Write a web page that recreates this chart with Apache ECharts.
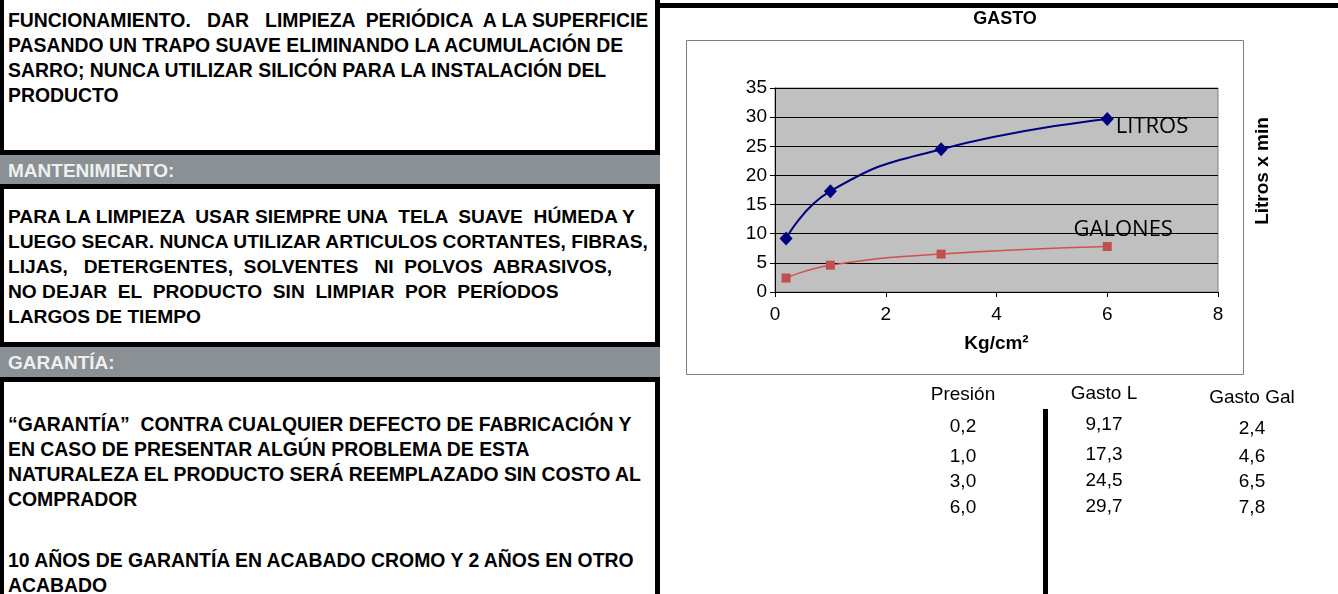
<!DOCTYPE html>
<html>
<head>
<meta charset="utf-8">
<script src="https://cdn.jsdelivr.net/npm/echarts@6/dist/echarts.min.js"></script>
<style>
  html, body { margin: 0; padding: 0; background: #fff; }
  body { width: 1338px; height: 594px; position: relative; overflow: hidden; font-family: "Liberation Sans", Arial, sans-serif; }
  .blk { position: absolute; background: #000; }
  .band { position: absolute; left: 0; width: 660px; background: #8a9093; border-top: 5px solid #000; border-bottom: 5px solid #000; }
  .band span { position: absolute; left: 8px; top: 1px; line-height: 30px; font-size: 19px; font-weight: bold; color: #eef0f0; }
  .ln { position: absolute; left: 8px; height: 25px; line-height: 25px; font-size: 19.4px; font-weight: bold; color: #000; white-space: pre; }
  .cell { position: absolute; width: 120px; margin-left: -60px; text-align: center; font-size: 19px; line-height: 24px; height: 24px; color: #000; }
  #chart { position: absolute; left: 660px; top: 0; width: 678px; height: 400px; }
</style>
</head>
<body>
<div id="doc"></div>
<div id="chart"></div>
<div id="tbl"></div>
<script>
// --- chart data (presion en kg/cm2, gasto) ---
var presion  = [0.2, 1.0, 3.0, 6.0];
var gastoL   = [9.17, 17.3, 24.5, 29.7];
var gastoGal = [2.4, 4.6, 6.5, 7.8];
var tableHeads = ['Presión', 'Gasto L', 'Gasto Gal'];

// --- left panel text ---
var bloque1 = [
  'FUNCIONAMIENTO.   DAR   LIMPIEZA  PERIÓDICA  A LA SUPERFICIE',
  'PASANDO UN TRAPO SUAVE ELIMINANDO LA ACUMULACIÓN DE',
  'SARRO; NUNCA UTILIZAR SILICÓN PARA LA INSTALACIÓN DEL',
  'PRODUCTO'
];
var bloque2 = [
  'PARA LA LIMPIEZA  USAR SIEMPRE UNA  TELA  SUAVE  HÚMEDA Y',
  'LUEGO SECAR. NUNCA UTILIZAR ARTICULOS CORTANTES, FIBRAS,',
  'LIJAS,   DETERGENTES,  SOLVENTES   NI  POLVOS  ABRASIVOS,',
  'NO DEJAR  EL  PRODUCTO  SIN  LIMPIAR  POR  PERÍODOS',
  'LARGOS DE TIEMPO'
];
var bloque3 = [
  '“GARANTÍA”  CONTRA CUALQUIER DEFECTO DE FABRICACIÓN Y',
  'EN CASO DE PRESENTAR ALGÚN PROBLEMA DE ESTA',
  'NATURALEZA EL PRODUCTO SERÁ REEMPLAZADO SIN COSTO AL',
  'COMPRADOR'
];
var bloque4 = [
  '10 AÑOS DE GARANTÍA EN ACABADO CROMO Y 2 AÑOS EN OTRO',
  'ACABADO'
];

function esc(t) {
  return t.replace(/&/g, '&amp;').replace(/</g, '&lt;').replace(/>/g, '&gt;');
}

function addLines(lines, firstCenter, step, size) {
  var html = '';
  lines.forEach(function (t, i) {
    var top = Math.round(firstCenter + i * step - 12.5);
    html += '<div class="ln" style="top:' + top + 'px' + (size ? ';font-size:' + size + 'px' : '') + '">' + esc(t) + '</div>';
  });
  return html;
}

var doc = '';
doc += '<div class="blk" style="left:0;top:0;width:4px;height:594px"></div>';
doc += '<div class="blk" style="left:655px;top:0;width:5px;height:594px"></div>';
doc += '<div class="blk" style="left:655px;top:3px;width:683px;height:5px"></div>';
doc += addLines(bloque1, 20, 25);
doc += '<div class="band" style="top:150px;height:29px"><span>MANTENIMIENTO:</span></div>';
doc += addLines(bloque2, 216, 25.2, 19.2);
doc += '<div class="band" style="top:342px;height:30px"><span>GARANTÍA:</span></div>';
doc += addLines(bloque3, 424, 25.3);
doc += addLines(bloque4, 560, 25);
document.getElementById('doc').innerHTML = doc;

// --- data table under the chart ---
function fmt(v, dec) {
  return (dec != null ? v.toFixed(dec) : String(v)).replace('.', ',');
}
var colX = [963, 1104, 1252];
var headY = [394, 393, 397];
var rowY = [[426, 456, 481, 507], [424, 454, 480, 506], [428, 456, 481, 507]];
var cols = [
  presion.map(function (v) { return fmt(v, 1); }),
  gastoL.map(function (v) { return fmt(v); }),
  gastoGal.map(function (v) { return fmt(v); })
];
var tb = '';
tableHeads.forEach(function (h, c) {
  tb += '<div class="cell" style="left:' + colX[c] + 'px;top:' + (headY[c] - 12) + 'px">' + h + '</div>';
  cols[c].forEach(function (s, r) {
    tb += '<div class="cell" style="left:' + colX[c] + 'px;top:' + (rowY[c][r] - 12) + 'px">' + s + '</div>';
  });
});
tb += '<div class="blk" style="left:1043px;top:409px;width:5px;height:185px"></div>';
document.getElementById('tbl').innerHTML = tb;

// --- chart ---
var chart = echarts.init(document.getElementById('chart'));
var last = presion.length - 1;

chart.setOption({
  animation: false,
  graphic: [
    { type: 'text', x: 345, y: 19,
      style: { text: 'GASTO', fill: '#000', font: 'bold 18px "Liberation Sans"', textAlign: 'center', textVerticalAlign: 'middle' } },
    { type: 'rect', shape: { x: 26.5, y: 40.5, width: 557, height: 334 }, style: { fill: 'none', stroke: '#7f7f7f', lineWidth: 1 }, z: -1 },
    { type: 'text', x: 603, y: 171, rotation: Math.PI / 2,
      style: { text: 'Litros x min', fill: '#000', font: 'bold 19px "Liberation Sans"', textAlign: 'center', textVerticalAlign: 'middle' } }
  ],
  grid: {
    left: 115, top: 88, width: 443, height: 204,
    show: true, backgroundColor: '#c0c0c0', borderColor: '#808080', borderWidth: 1
  },
  xAxis: {
    type: 'value', min: 0, max: 8, interval: 2,
    name: 'Kg/cm²', nameLocation: 'middle', nameGap: 42,
    nameTextStyle: { fontFamily: 'Liberation Sans', fontSize: 19, fontWeight: 'bold', color: '#000' },
    axisLine: { onZero: false, lineStyle: { color: '#000', width: 1 } },
    axisTick: { show: true, length: 5, lineStyle: { color: '#000' } },
    axisLabel: { margin: 13, fontFamily: 'Liberation Sans', fontSize: 19, color: '#000' },
    splitLine: { show: false }
  },
  yAxis: {
    type: 'value', min: 0, max: 35, interval: 5,
    axisLine: { show: true, lineStyle: { color: '#000', width: 1 } },
    axisTick: { show: true, length: 5, lineStyle: { color: '#000' } },
    axisLabel: { margin: 8, fontFamily: 'Liberation Sans', fontSize: 19, color: '#000' },
    splitLine: { show: true, lineStyle: { color: '#000', width: 1 } }
  },
  series: [
    {
      name: 'LITROS', type: 'line', smooth: 0.5,
      data: presion.map(function (x, i) {
        var d = { value: [x, gastoL[i]] };
        if (i === last) d.label = { show: true, formatter: 'LITROS', position: 'right', distance: 2, offset: [0, 8] };
        return d;
      }),
      symbol: 'diamond', symbolSize: [13, 14],
      lineStyle: { color: '#000080', width: 2 },
      itemStyle: { color: '#000080' },
      label: { fontFamily: 'Open Sans', fontSize: 22, color: '#000' }
    },
    {
      name: 'GALONES', type: 'line', smooth: 0.5,
      data: presion.map(function (x, i) {
        var d = { value: [x, gastoGal[i]] };
        if (i === last) d.label = { show: true, formatter: 'GALONES', position: 'top', distance: 4, offset: [16, 3] };
        return d;
      }),
      symbol: 'rect', symbolSize: 9,
      lineStyle: { color: '#d0504d', width: 1.5 },
      itemStyle: { color: '#c0504d' },
      label: { fontFamily: 'Open Sans', fontSize: 22, color: '#000' }
    }
  ]
});
</script>
</body>
</html>
